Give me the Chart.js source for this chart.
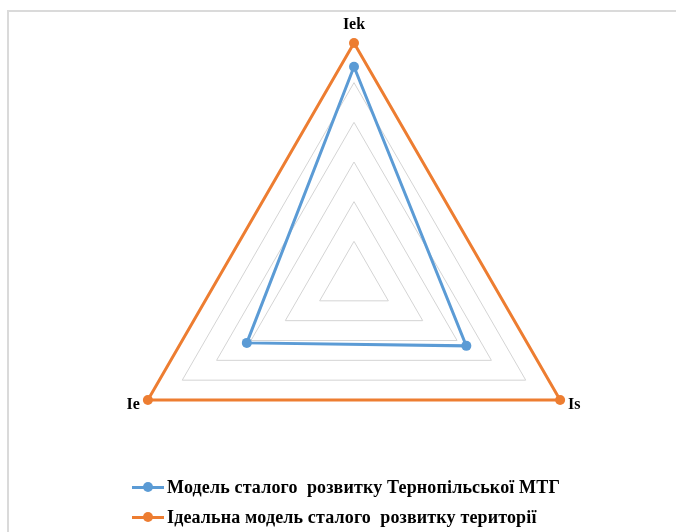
<!DOCTYPE html>
<html>
<head>
<meta charset="utf-8">
<script src="https://cdn.jsdelivr.net/npm/chart.js@4/dist/chart.umd.min.js"></script>
<style>
  body { margin: 0; background: #fff; }
  #wrap { position: relative; width: 676px; height: 532px; overflow: hidden; }
  #frame { position: absolute; left: 7px; top: 10px; width: 700px; height: 600px;
           border-left: 2px solid #dadada; border-top: 2px solid #dadada; }
  #chartCanvas { position: absolute; left: 0; top: 0; }
  #legend { position: absolute; left: 132px; top: 472px; letter-spacing: 0.15px;
            font: bold 18px "Liberation Serif", "Times New Roman", serif; color: #000; }
  .row { height: 30px; display: flex; align-items: center; white-space: pre; }
  .mark { position: relative; width: 32px; height: 3px; margin-right: 3px; }
  .mark i { position: absolute; left: 10.5px; top: -3.5px; width: 10px; height: 10px; border-radius: 50%; }
</style>
</head>
<body>
<div id="wrap">
  <div id="frame"></div>
  <canvas id="chartCanvas" width="676" height="532"></canvas>
  <div id="legend"></div>
</div>
<script>
const categories = ['Iek', 'Is', 'Ie'];
const modelValues = [0.90, 0.545, 0.52];
const idealValues = [1, 1, 1];
const seriesNames = ['Модель сталого  розвитку Тернопільської МТГ', 'Ідеальна модель сталого  розвитку території'];
const seriesColors = ['#5b9bd5', '#ed7d31'];

// axis labels drawn next to the vertices of the scale
const axisLabels = {
    id: 'axisLabels',
    afterDatasetsDraw(chart) {
        const r = chart.scales.r;
        const ctx = chart.ctx;
        ctx.save();
        ctx.font = 'bold 16px "Liberation Serif", "Times New Roman", serif';
        ctx.fillStyle = '#000';
        ctx.textBaseline = 'alphabetic';
        categories.forEach((lab, i) => {
            const p = r.getPointPosition(i, r.drawingArea);
            if (Math.abs(p.x - r.xCenter) < 1) {
                ctx.textAlign = 'center';
                ctx.fillText(lab, p.x, p.y - 14);
            } else if (p.x > r.xCenter) {
                ctx.textAlign = 'left';
                ctx.fillText(lab, p.x + 8, p.y + 9);
            } else {
                ctx.textAlign = 'right';
                ctx.fillText(lab, p.x - 8, p.y + 9);
            }
        });
        ctx.restore();
    }
};

const ctx = document.getElementById('chartCanvas').getContext('2d');
const myChart = new Chart(ctx, {
    type: 'radar',
    data: {
        labels: categories,
        datasets: [{
            label: seriesNames[0],
            data: modelValues,
            borderColor: seriesColors[0],
            backgroundColor: seriesColors[0],
            borderWidth: 3,
            pointRadius: 5,
            pointBorderWidth: 0,
            fill: false
        }, {
            label: seriesNames[1],
            data: idealValues,
            borderColor: seriesColors[1],
            backgroundColor: seriesColors[1],
            borderWidth: 3,
            pointRadius: 5,
            pointBorderWidth: 0,
            fill: false
        }]
    },
    options: {
        responsive: false,
        animation: false,
        layout: { padding: { left: 40, right: 8, top: 43, bottom: 13 } },
        plugins: { legend: { display: false }, tooltip: { enabled: false } },
        elements: { line: { tension: 0 } },
        scales: {
            r: {
                min: 0,
                max: 1,
                ticks: { display: false, count: 7 },
                grid: { color: '#d4d4d4', lineWidth: 1 },
                angleLines: { display: false },
                pointLabels: { display: false }
            }
        }
    },
    plugins: [axisLabels]
});

// legend built from the datasets
const legend = document.getElementById('legend');
myChart.data.datasets.forEach(ds => {
    const row = document.createElement('div');
    row.className = 'row';
    const mark = document.createElement('span');
    mark.className = 'mark';
    mark.style.background = ds.borderColor;
    const dot = document.createElement('i');
    dot.style.background = ds.borderColor;
    mark.appendChild(dot);
    row.appendChild(mark);
    row.appendChild(document.createTextNode(ds.label));
    legend.appendChild(row);
});
</script>
</body>
</html>
